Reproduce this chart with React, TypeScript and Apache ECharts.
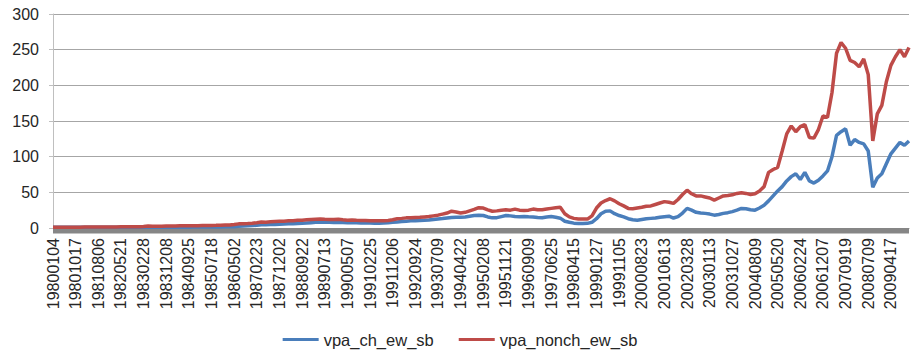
import React, { useEffect, useRef } from "react";
import * as echarts from "echarts";

const tickLabels = [
  "19800104", "19801017", "19810806", "19820521", "19830228", "19831208", "19840925", "19850718",
  "19860502", "19870223", "19871202", "19880922", "19890713", "19900507", "19910225", "19911206",
  "19920924", "19930709", "19940422", "19950208", "19951121", "19960909", "19970625", "19980415",
  "19990127", "19991105", "20000823", "20010613", "20020328", "20030113", "20031027", "20040809",
  "20050520", "20060224", "20061207", "20070919", "20080709", "20090417",
];

// points per labelled interval
const pointsPerTick = 5;

const yTicks = [0, 50, 100, 150, 200, 250, 300];

const seriesNames = ["vpa_ch_ew_sb", "vpa_nonch_ew_sb"];

const vpaCh = [
  1.0, 1.0, 1.0, 1.0, 1.0, 1.0, 1.0, 1.0, 1.0, 1.0, 1.0, 1.0, 1.0, 1.0, 1.0, 1.0, 1.0, 1.0, 1.0, 1.0, 1.0,
  1.1, 1.0, 1.0, 1.0, 1.1, 1.1, 1.1, 1.2, 1.2, 1.2, 1.3, 1.3, 1.3, 1.4, 1.4, 1.5, 1.5, 1.6, 1.7, 1.9,
  2.3, 2.8, 3.0, 3.4, 4.0, 4.5, 4.5, 4.8, 5.0, 5.2, 5.5, 5.8, 6.0, 6.3, 6.5,
  7.0, 7.5, 8.0, 8.3, 8.2, 8.0, 7.8, 8.0, 7.6, 7.3, 7.5, 7.3, 7.0, 7.2, 7.0, 6.8, 6.8, 7.0, 7.3, 8.0,
  8.5, 9.0, 9.5, 10.0, 10.3, 10.5, 10.8, 11.2, 12.0, 12.6, 13.2, 14.0, 14.8, 15.0, 15.0,
  15.5, 16.5, 17.5, 18.0, 17.5, 15.5, 14.2, 14.5, 16.0, 17.5, 17.0, 16.0, 15.8, 16.0, 15.7, 15.5, 14.8, 14.5, 15.5, 16.0,
  15.0, 13.8, 9.5, 8.0, 6.8, 6.3, 6.2, 6.5, 8.0, 13.0, 20.0, 23.5, 24.0, 20.0, 17.5,
  15.5, 13.0, 11.5, 11.0, 12.0, 13.0, 13.5, 14.0, 15.0, 15.8, 16.5, 14.0, 16.0, 21.0, 27.5,
  25.0, 22.0, 21.0, 20.5, 19.5, 18.0, 19.0, 20.5, 21.5, 23.0, 25.0, 27.5, 27.0, 25.5, 25.0, 28.0, 32.0, 38.0, 45.0, 52.0,
  58, 66, 72, 76, 68, 78, 66, 63, 67, 73, 80, 100, 130, 135, 139,
  116, 124, 120, 118, 108, 57, 70, 76, 90, 104, 112, 120, 116, 122,
];

const vpaNonch = [
  1.0, 1.0, 1.1, 1.1, 1.2, 1.2, 1.2, 1.3, 1.3, 1.3, 1.4, 1.4, 1.5, 1.5, 1.5, 1.6, 1.6, 1.7, 1.8, 1.9, 2.0,
  2.8, 2.6, 2.4, 2.6, 2.8, 2.7, 2.9, 3.0, 3.1, 3.2, 3.3, 3.2, 3.4, 3.5, 3.6, 3.7, 3.9, 4.1, 4.3,
  5.0, 5.8, 6.0, 6.3, 6.8, 7.5, 8.5, 8.2, 8.6, 9.0, 9.3, 9.5, 10.0, 10.3, 10.8, 11.0,
  11.5, 12.0, 12.3, 12.5, 12.2, 12.0, 11.8, 12.2, 11.5, 11.0, 11.2, 10.8, 10.5, 10.6, 10.3, 10.2, 10.0, 10.1, 10.4, 11.5,
  13.0, 13.5, 14.2, 14.5, 14.8, 15.0, 15.5, 16.0, 17.0, 18.0, 19.5, 21.0, 23.5, 22.5, 21.0,
  22.0, 24.0, 26.0, 28.5, 28.0, 25.5, 23.5, 24.0, 25.0, 25.5, 25.0, 26.5, 25.0, 24.5, 25.0, 26.5, 25.5, 25.5, 26.5, 27.5,
  28.5, 29.0, 20.0, 15.5, 13.5, 12.5, 12.5, 12.5, 17.0, 28.0, 35.0, 38.5, 41.0, 38.0, 34.0,
  31.0, 27.5, 27.0, 28.0, 29.0, 30.5, 31.0, 33.0, 35.0, 37.0, 36.0, 34.5, 40.0, 47.0, 53.0,
  48.0, 45.0, 45.0, 43.5, 42.0, 39.0, 42.0, 45.0, 45.5, 46.5, 48.5, 49.5, 48.5, 47.0, 48.0, 52.0, 58.0, 78.0, 82.0, 85.0,
  108, 132, 143, 135, 142, 145, 127, 126, 138, 157, 155, 190, 245, 260, 252,
  235, 232, 226, 237, 215, 122, 160, 172, 205, 228, 240, 250, 240, 253,
];

const categories: string[] = [];
tickLabels.forEach((t) => {
  categories.push(t);
  for (let j = 1; j < pointsPerTick; j++) categories.push("");
});

const FONT = "'Liberation Sans', Arial, sans-serif";

export default function App() {
  const ref = useRef<HTMLDivElement>(null);
  useEffect(() => {
    if (!ref.current) return;
    const chart = echarts.init(ref.current, undefined, { renderer: "svg" });
    chart.setOption({
      animation: false,
      backgroundColor: "#ffffff",
      textStyle: { fontFamily: FONT },
      grid: { left: 53, right: 11, top: 14, bottom: 132, containLabel: false },
      legend: {
        bottom: 7,
        left: "center",
        icon: "rect",
        itemWidth: 36,
        itemHeight: 3,
        itemGap: 25,
        textStyle: { fontFamily: FONT, fontSize: 16.5, color: "#262626" },
        data: seriesNames,
      },
      xAxis: {
        type: "category",
        data: categories,
        boundaryGap: false,
        axisLine: { show: true, lineStyle: { color: "#868686", width: 1 } },
        axisTick: { show: false },
        axisLabel: {
          interval: pointsPerTick - 1,
          rotate: 90,
          margin: 10,
          fontFamily: FONT,
          fontSize: 16,
          color: "#262626",
        },
        splitLine: { show: false },
      },
      yAxis: {
        type: "value",
        min: yTicks[0],
        max: yTicks[yTicks.length - 1],
        interval: yTicks[1] - yTicks[0],
        axisLine: { show: true, lineStyle: { color: "#bfbfbf", width: 1 } },
        axisTick: { show: true, length: 4, lineStyle: { color: "#bfbfbf" } },
        axisLabel: { margin: 14, fontFamily: FONT, fontSize: 16, color: "#262626" },
        splitLine: { show: true, lineStyle: { color: "#a6a6a6", width: 1 } },
      },
      series: [
        {
          name: seriesNames[0],
          type: "line",
          data: vpaCh,
          showSymbol: false,
          symbol: "none",
          z: 3,
          lineStyle: { color: "#4a7ebb", width: 3.5 },
          itemStyle: { color: "#4a7ebb" },
        },
        {
          name: seriesNames[1],
          type: "line",
          data: vpaNonch,
          showSymbol: false,
          symbol: "none",
          z: 4,
          lineStyle: { color: "#be4b48", width: 3.5 },
          itemStyle: { color: "#be4b48" },
        },
      ],
    });

    // the dense category tick marks of the original merge into a solid band under the axis;
    // it is placed from the axis' own pixel positions
    const p0 = chart.convertToPixel({ gridIndex: 0 }, [0, yTicks[0]]) as number[];
    const p1 = chart.convertToPixel({ gridIndex: 0 }, [categories.length - 1, yTicks[0]]) as number[];
    if (p0 && p1) {
      chart.setOption({
        graphic: [
          {
            type: "rect",
            z: 2,
            shape: { x: p0[0], y: p0[1], width: p1[0] - p0[0], height: 5.5 },
            style: { fill: "#868686" },
          },
        ],
      });
    }
    return () => chart.dispose();
  }, []);
  return <div ref={ref} style={{ width: 920, height: 360, margin: -8 }} />;
}
